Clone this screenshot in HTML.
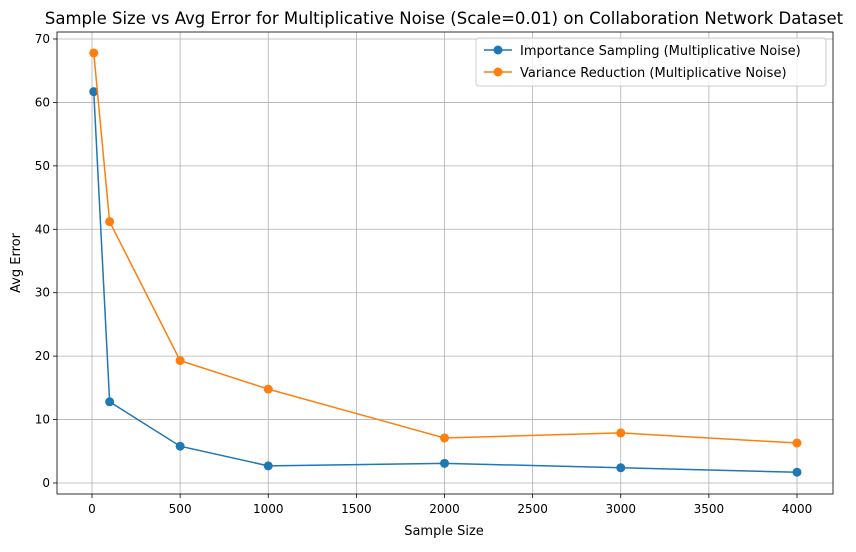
<!DOCTYPE html>
<html><head><meta charset="utf-8"><style>
body{margin:0;background:#fff;font-family:"Liberation Sans","DejaVu Sans",sans-serif;}
svg text{font-family:"DejaVu Sans","Liberation Sans",sans-serif;}
</style></head><body>
<svg id="chart" width="856" height="547" viewBox="0 0 856 547" xmlns="http://www.w3.org/2000/svg">
<rect width="856" height="547" fill="#fff"/>
<g id="grid"></g>
<g id="axes"></g>
<g id="series"></g>
<text x="444" y="24" font-size="16.5" text-anchor="middle" fill="#000">Sample Size vs Avg Error for Multiplicative Noise (Scale=0.01) on Collaboration Network Dataset</text>
<text x="444" y="535" font-size="13" text-anchor="middle">Sample Size</text>
<text transform="translate(20,263) rotate(-90)" font-size="13" text-anchor="middle">Avg Error</text>
<g>
<rect x="476" y="38" width="350" height="48" fill="#fff" fill-opacity="0.8" stroke="#ccc" rx="3"/>
<g>
<line x1="484" y1="50" x2="512" y2="50" stroke="#1f77b4" stroke-width="1.5"/><circle cx="498" cy="50" r="4.5" fill="#1f77b4"/>
<text x="520" y="55" font-size="13">Importance Sampling (Multiplicative Noise)</text></g>
<g>
<line x1="484" y1="72" x2="512" y2="72" stroke="#ff7f0e" stroke-width="1.5"/><circle cx="498" cy="72" r="4.5" fill="#ff7f0e"/>
<text x="520" y="77" font-size="13">Variance Reduction (Multiplicative Noise)</text></g>
</g>
</svg>
<script>
const sampleSizes=[10,100,500,1000,2000,3000,4000];
const importanceSampling=[61.7,12.8,5.8,2.7,3.1,2.4,1.7];
const varianceReduction=[67.8,41.2,19.3,14.8,7.1,7.9,6.3];
const xTicks=[0,500,1000,1500,2000,2500,3000,3500,4000];
const yTicks=[0,10,20,30,40,50,60,70];
const NS="http://www.w3.org/2000/svg";
const L=57,R=833,T=32,B=494;
const xs=v=>92+(v/4000)*705;
const ys=v=>483-(v/70)*444;
function mk(tag,attrs,parent){const e=document.createElementNS(NS,tag);for(const k in attrs)e.setAttribute(k,attrs[k]);parent.appendChild(e);return e;}
const grid=document.getElementById('grid'),axes=document.getElementById('axes'),ser=document.getElementById('series');
xTicks.forEach(t=>{const x=xs(t);
 const g=mk('line',{x1:x,x2:x,y1:T,y2:B,stroke:'#b0b0b0','stroke-width':0.8},grid);
 
 
 mk('line',{x1:x,x2:x,y1:B,y2:B+4,stroke:'#000','stroke-width':0.8},axes);
 const tx=mk('text',{x:x,y:B+19,'font-size':12,'text-anchor':'middle'},axes);tx.textContent=t;
 
 });
yTicks.forEach(t=>{const y=ys(t);
 const g=mk('line',{x1:L,x2:R,y1:y,y2:y,stroke:'#b0b0b0','stroke-width':0.8},grid);
 
 
 mk('line',{x1:L-4,x2:L,y1:y,y2:y,stroke:'#000','stroke-width':0.8},axes);
 const tx=mk('text',{x:L-7,y:y+4,'font-size':12,'text-anchor':'end'},axes);tx.textContent=t;
 
 });
const fr=mk('rect',{x:L,y:T,width:R-L,height:B-T,fill:'none',stroke:'#000','stroke-width':0.8},axes);


function series(vals,color,name){
 const pts=sampleSizes.map((s,i)=>xs(s)+','+ys(vals[i])).join(' ');
 const pl=mk('polyline',{points:pts,fill:'none',stroke:color,'stroke-width':1.5},ser);
 
 
 sampleSizes.forEach((s,i)=>{const c=mk('circle',{cx:xs(s),cy:ys(vals[i]),r:4.5,fill:color},ser);
  
  });
}
series(importanceSampling,'#1f77b4','importance-sampling');
series(varianceReduction,'#ff7f0e','variance-reduction');
</script>
</body></html>
